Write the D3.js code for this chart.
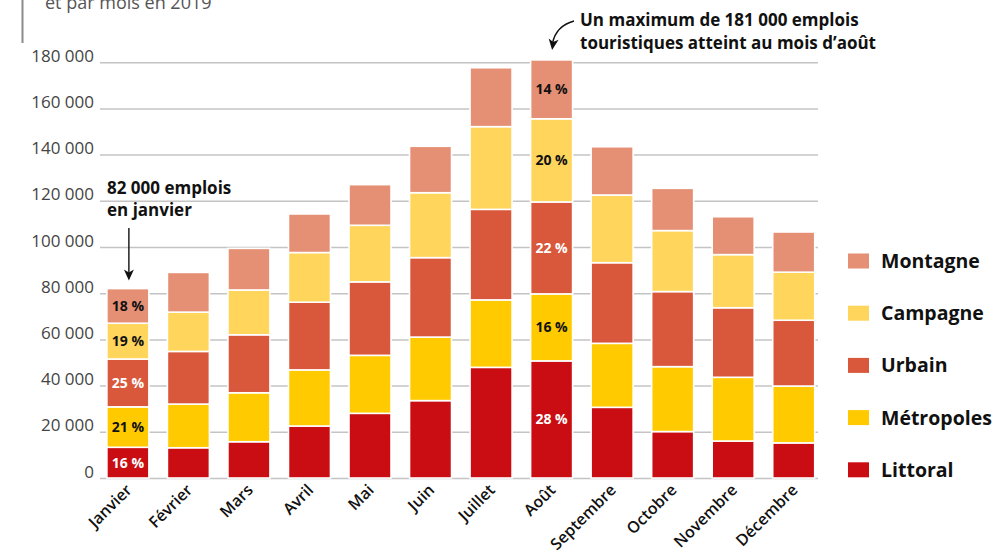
<!DOCTYPE html>
<html lang="fr">
<head>
<meta charset="utf-8">
<script src="https://cdn.jsdelivr.net/npm/d3@7"></script>
<style>
  html, body { margin: 0; padding: 0; background: #fff; }
  svg { display: block; font-family: "Open Sans", "Noto Sans", sans-serif; }
</style>
</head>
<body>
<svg id="chart" width="994" height="556"></svg>
<script>
// Emplois touristiques par type d'espace et par mois, 2019
const months = ["Janvier", "Février", "Mars", "Avril", "Mai", "Juin", "Juillet", "Août",
                "Septembre", "Octobre", "Novembre", "Décembre"];
const littoral   = [13300, 13100, 15700, 22500, 28000, 33500, 47900, 50700, 30600, 20100, 16000, 15200];
const metropoles = [17500, 18900, 21200, 24300, 25100, 27500, 29200, 29000, 27700, 28100, 27600, 24600];
const urbain     = [20700, 22800, 25100, 29300, 31800, 34400, 39200, 39800, 34900, 32500, 30100, 28500];
const campagne   = [15500, 17000, 19400, 21500, 24500, 28100, 35800, 36000, 29300, 26400, 23000, 20800];
const montagne   = [15000, 17200, 18000, 16700, 17600, 20100, 25500, 25500, 20900, 18300, 16400, 17400];
const seriesNames = ["Littoral", "Métropoles", "Urbain", "Campagne", "Montagne"];
const yTicks = [0, 20000, 40000, 60000, 80000, 100000, 120000, 140000, 160000, 180000];
const labelledMonths = ["Janvier", "Août"];

const colors = {
  "Littoral": "#c90d12",
  "Métropoles": "#ffcb00",
  "Urbain": "#d9573a",
  "Campagne": "#ffd55c",
  "Montagne": "#e58f74"
};
const darkText = { "Littoral": false, "Métropoles": true, "Urbain": false, "Campagne": true, "Montagne": true };

const rows = months.map((m, i) => ({
  month: m,
  "Littoral": littoral[i],
  "Métropoles": metropoles[i],
  "Urbain": urbain[i],
  "Campagne": campagne[i],
  "Montagne": montagne[i]
}));
rows.forEach(r => { r.total = seriesNames.reduce((s, k) => s + r[k], 0); });

const fr = d3.formatLocale({ decimal: ",", thousands: " ", grouping: [3], currency: ["", " €"] });
const fmt = fr.format(",d");

const svg = d3.select("#chart");

const x = d3.scaleBand().domain(months).range([97.8, 823.8]).paddingInner(0.306).paddingOuter(0.15);
const y = d3.scaleLinear().domain([0, 180000]).range([478, 62.2]);

// Titre (bas du bloc) et filet vertical
svg.append("line").attr("x1", 22.5).attr("x2", 22.5).attr("y1", 0).attr("y2", 43)
  .attr("stroke", "#8a8a8a").attr("stroke-width", 2);
svg.append("text").attr("x", 45).attr("y", 9)
  .attr("font-size", 18).attr("fill", "#555").text("et par mois en 2019");

// Axe Y : grille et libellés
const yAxis = d3.axisLeft(y).tickValues(yTicks).tickFormat(d => fmt(d))
  .tickSize(-(818 - 100)).tickPadding(6);
const gy = svg.append("g").attr("transform", "translate(100,0)").call(yAxis);
gy.select(".domain").remove();
gy.selectAll(".tick line").attr("stroke", "#c4c4c4").attr("stroke-width", 1.5);
gy.selectAll(".tick text")
  .attr("font-size", 17).attr("fill", "#444").attr("font-family", "'Open Sans', sans-serif")
  .attr("dy", "-0.05em").attr("x", -6);

// Barres empilées
const stack = d3.stack().keys(seriesNames);
const stacked = stack(rows);

const layers = svg.append("g").selectAll("g").data(stacked).join("g")
  .attr("fill", d => colors[d.key]);
layers.selectAll("rect").data(d => d.map(p => ({ p, key: d.key }))).join("rect")
  .attr("x", d => x(d.p.data.month))
  .attr("width", x.bandwidth())
  .attr("y", d => y(d.p[1]))
  .attr("height", d => y(d.p[0]) - y(d.p[1]))
  .attr("stroke", "#fff").attr("stroke-width", 1.6);

// Pourcentages dans les barres
const pctLabels = [];
stacked.forEach(layer => {
  layer.forEach(p => {
    if (labelledMonths.includes(p.data.month)) {
      pctLabels.push({ key: layer.key, p, pct: Math.round(100 * (p[1] - p[0]) / p.data.total) });
    }
  });
});
svg.append("g").selectAll("text").data(pctLabels).join("text")
  .attr("x", d => x(d.p.data.month) + x.bandwidth() / 2)
  .attr("y", d => (y(d.p[0]) + y(d.p[1])) / 2)
  .attr("dy", "0.36em")
  .attr("text-anchor", "middle")
  .attr("font-size", 14).attr("font-weight", 700)
  .attr("fill", d => darkText[d.key] ? "#111" : "#fff")
  .text(d => d.pct + " %");

// Axe X : mois inclinés
const xAxis = d3.axisBottom(x).tickSize(0).tickPadding(0);
const gx = svg.append("g").attr("transform", "translate(0,478)").call(xAxis);
gx.select(".domain").remove();
gx.selectAll(".tick text")
  .attr("font-size", 16).attr("font-weight", 600).attr("fill", "#111")
  .attr("font-family", "'Open Sans', sans-serif")
  .attr("text-anchor", "end")
  .attr("dy", 0)
  .attr("transform", "translate(5,13) rotate(-45)");

// Légende
const legendOrder = ["Montagne", "Campagne", "Urbain", "Métropoles", "Littoral"];
const legend = svg.append("g").selectAll("g").data(legendOrder).join("g")
  .attr("transform", (d, i) => `translate(848,${261 + i * 52.2})`);
legend.append("rect").attr("x", 0).attr("y", -7.5).attr("width", 21).attr("height", 15)
  .attr("fill", d => colors[d]);
legend.append("text").attr("x", 33).attr("y", 0).attr("dy", "0.36em")
  .attr("font-size", 19.5).attr("font-weight", 700).attr("fill", "#111").text(d => d);

// Annotations
const arrowHead = (g, tx, ty, angle) => {
  g.append("path")
    .attr("d", "M0,0 L-5,-11 L0,-8 L5,-11 Z")
    .attr("transform", `translate(${tx},${ty}) rotate(${angle})`)
    .attr("fill", "#111");
};
const ann = svg.append("g").attr("fill", "#111").attr("font-weight", 700).attr("font-size", 17);

const jan = rows[0];
ann.append("text").attr("x", 107).attr("y", 194).text(fmt(jan.total) + " emplois");
ann.append("text").attr("x", 107).attr("y", 216).text("en janvier");
const janX = x(jan.month) + x.bandwidth() / 2 + 1;
svg.append("line").attr("x1", janX).attr("x2", janX).attr("y1", 228).attr("y2", 274)
  .attr("stroke", "#111").attr("stroke-width", 1.4);
arrowHead(svg, janX, y(jan.total) - 8, 0);

const aug = rows[7];
ann.append("text").attr("x", 580).attr("y", 26).text("Un maximum de " + fmt(aug.total) + " emplois");
ann.append("text").attr("x", 580).attr("y", 49).text("touristiques atteint au mois d\u2019août");
const augX = x(aug.month) + x.bandwidth() / 2;
svg.append("path").attr("d", `M574,21 Q556,26 ${augX + 1},43`)
  .attr("fill", "none").attr("stroke", "#111").attr("stroke-width", 1.4);
arrowHead(svg, augX + 0.5, 50, 8);
</script>
</body>
</html>
